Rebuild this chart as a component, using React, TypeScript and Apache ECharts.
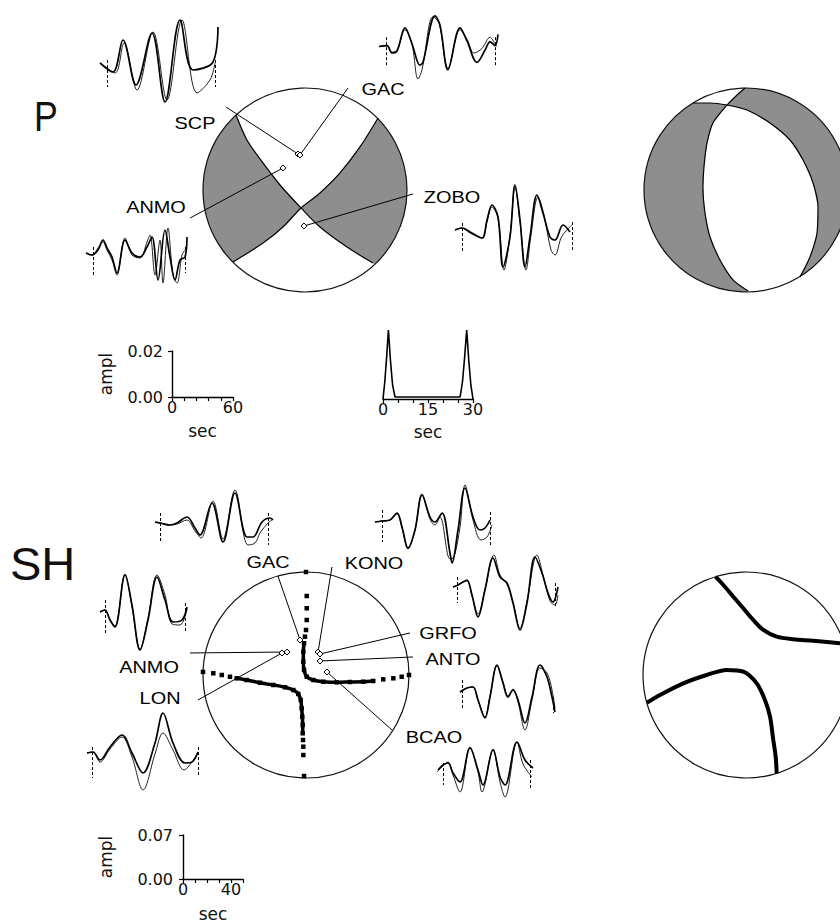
import React, { useEffect, useRef } from "react";
import * as echarts from "echarts";

// ---------------- Waveforms: [time offset, amplitude] (observed / synthetic) ----------------
const pScpObs = [[-7,0],[6,-9],[16,23],[29,-22],[45,30],[58,-39],[73,43],[86,-7],[106,1],[111,36]];
const pScpSyn = [[-7,0],[8,-10],[17,20],[30,-27],[46,31],[60,-37],[75,43],[90,-30],[103,-17],[108,0]];
const pGacObs = [[-7,0],[1,1],[6,-7],[11,-5],[19,20],[26,3],[34,-20],[37,-17],[49,33],[54,23],[62,-25],[74,20],[81,6],[91,-17],[99,-4],[104,5],[109,1],[112,13]];
const pGacSyn = [[-7,0],[1,1],[6,-6],[11,-4],[19,18],[26,2],[32,-35],[36,-25],[47,32],[53,25],[62,-23],[74,18],[81,8],[88,-7],[96,-2],[104,10],[109,3],[111,0]];
const pAnmoObs = [[-7,4],[-1,2],[5,7],[10,17],[14,9],[19,0],[24,-16],[32,17],[39,4],[47,0],[54,10],[59,20],[65,-23],[72,27],[77,0],[82,-23],[87,-3],[92,0],[94,20]];
const pAnmoSyn = [[-7,4],[-1,2],[5,9],[10,15],[14,7],[19,-3],[24,-18],[32,19],[39,2],[47,-1],[54,15],[57,22],[62,-18],[67,17],[70,-26],[75,29],[80,-18],[84,-26],[89,2],[92,7]];
const pZoboObs = [[-7,0],[0,2],[8,-2],[20,-8],[25,10],[30,25],[36,13],[41,-37],[48,-7],[53,45],[58,10],[63,-37],[68,-7],[75,35],[81,17],[88,-7],[93,-10],[101,5],[108,-2]];
const pZoboSyn = [[-7,0],[0,2],[8,-3],[20,-8],[25,8],[30,23],[36,12],[42,-40],[48,-5],[53,43],[58,8],[64,-40],[69,-5],[76,33],[82,15],[89,-20],[93,-25],[99,-8],[103,-2],[110,5]];

const shGacObs = [[-5,1],[0,0],[10,-2],[17,0],[27,6],[35,-5],[40,-12],[52,20],[63,-19],[75,30],[87,-14],[93,-14],[102,1],[110,5],[113,3]];
const shGacSyn = [[-5,1],[0,0],[10,-2],[17,-1],[27,3],[35,-8],[41,-15],[53,22],[63,-16],[75,33],[88,-22],[95,-20],[100,-10],[108,0],[112,3]];
const shKonoObs = [[-7,0],[0,1],[8,2],[15,9],[20,-5],[26,-26],[33,-8],[40,27],[48,5],[53,0],[60,9],[68,-31],[70,-41],[76,-8],[83,34],[91,5],[98,-8],[103,-6],[108,2]];
const shKonoSyn = [[-7,0],[0,1],[8,2],[15,8],[20,-6],[26,-27],[33,-8],[40,28],[48,3],[53,-3],[58,5],[68,-37],[72,-35],[78,-5],[83,37],[91,2],[99,-18],[105,-15],[110,-3]];
const shGrfoObs = [[-4,0],[1,2],[6,5],[10,7],[15,-8],[21,-30],[28,-3],[36,29],[43,10],[50,4],[56,-16],[63,-43],[70,-16],[78,30],[85,14],[91,-6],[96,-15],[101,0]];
const shGrfoSyn = [[-4,0],[1,2],[6,5],[10,6],[15,-9],[21,-27],[28,-2],[37,32],[43,12],[50,3],[56,-15],[63,-41],[70,-14],[80,32],[86,12],[93,-14],[98,-18],[101,-8]];
const shAntoObs = [[-2,-2],[5,2],[11,3],[16,-10],[23,-28],[28,-7],[35,25],[41,7],[46,-7],[51,0],[56,-10],[63,-33],[70,-7],[78,25],[85,13],[90,-7],[93,-22]];
const shAntoSyn = [[-2,-2],[5,2],[11,3],[16,-10],[23,-27],[28,-6],[35,24],[41,8],[46,-6],[51,1],[56,-12],[63,-40],[70,-10],[78,22],[85,17],[90,0],[93,-18]];
const shBcaoObs = [[-5,-3],[0,2],[5,4],[10,-6],[17,-15],[27,19],[35,-3],[40,-18],[50,17],[57,-10],[62,-18],[74,25],[82,7],[90,-1]];
const shBcaoSyn = [[-6,-5],[0,1],[5,5],[10,-8],[17,-25],[27,20],[35,-5],[39,-25],[50,18],[57,-15],[62,-30],[74,25],[80,3],[89,-10]];
const shAnmoObs = [[-5,0],[0,2],[5,-8],[10,-15],[20,37],[27,7],[35,-38],[43,-8],[52,35],[60,12],[68,-10],[77,-8],[82,5]];
const shAnmoSyn = [[-5,0],[0,2],[5,-8],[10,-14],[20,38],[27,5],[35,-37],[43,-6],[52,37],[60,17],[67,-12],[75,-13],[82,3]];
const shLonObs = [[-5,-1],[1,0],[8,-8],[18,5],[30,17],[40,-1],[51,-21],[63,9],[71,39],[81,9],[93,-11],[100,-10],[106,0]];
const shLonSyn = [[-5,-1],[1,0],[8,-10],[18,3],[30,15],[40,-5],[51,-38],[63,-2],[71,19],[81,2],[92,-18],[100,-10],[106,0]];

// Source time function (sec, relative amplitude)
const stfData = [[0,0],[0.6,0.25],[1.2,0.6],[1.8,1],[2.5,0.55],[3.2,0.2],[4,0.03],[25.7,0.03],[26.5,0.25],[27.2,0.6],[27.9,1],[28.6,0.55],[29.3,0.2],[30,0]];

// Scale-bar tick labels
const pAmplTicks = ["0.00", "0.02"];
const shAmplTicks = ["0.00", "0.07"];

// ---------------- Focal mechanisms (unit-circle projection) ----------------
const pPlaneA = [[-0.676,0.735],[-0.569,0.49],[-0.412,0.265],[-0.245,0.049],[-0.039,-0.176],[0.147,-0.363],[0.412,-0.559],[0.667,-0.716]];
const pPlaneB = [[0.716,0.706],[0.539,0.422],[0.343,0.167],[0.147,-0.029],[-0.039,-0.176],[-0.216,-0.363],[-0.412,-0.52],[-0.706,-0.706]];
const p2PlaneC = [[-0.52,0.853],[-0.353,0.853],[-0.186,0.833],[0.01,0.784],[0.235,0.657],[0.431,0.49],[0.559,0.294],[0.657,0.069],[0.706,-0.167],[0.696,-0.422],[0.627,-0.657],[0.529,-0.853]];
const p2PlaneD = [[-0.01,1],[-0.098,0.922],[-0.186,0.833],[-0.324,0.657],[-0.382,0.461],[-0.412,0.225],[-0.422,0.029],[-0.402,-0.225],[-0.353,-0.461],[-0.255,-0.686],[-0.127,-0.882],[0.02,-0.99]];
const shCurve1 = [[-1,0.03],[-0.9,0.017],[-0.818,0],[-0.738,-0.017],[-0.673,-0.032],[-0.576,-0.049],[-0.447,-0.075],[-0.317,-0.097],[-0.204,-0.119],[-0.123,-0.146],[-0.075,-0.184],[-0.051,-0.243],[-0.042,-0.323],[-0.036,-0.405],[-0.032,-0.485],[-0.032,-0.566],[-0.029,-0.631],[-0.026,-0.696],[-0.026,-0.777],[-0.019,-0.981]];
const shCurve2 = [[0,1],[0.007,0.767],[0.007,0.648],[0.007,0.534],[0,0.437],[-0.01,0.372],[-0.019,0.308],[-0.026,0.226],[-0.026,0.129],[-0.019,0.049],[0.007,-0.017],[0.071,-0.049],[0.168,-0.065],[0.298,-0.071],[0.427,-0.068],[0.556,-0.065],[0.653,-0.058],[0.75,-0.042],[0.848,-0.032],[0.929,-0.017],[1,0]];
const sh2CurveA = [[-0.296,0.955],[-0.22,0.874],[-0.123,0.76],[-0.026,0.648],[0.071,0.534],[0.168,0.437],[0.298,0.372],[0.459,0.347],[0.653,0.333],[0.913,0.308],[0.951,0.301]];
const sh2CurveB = [[-0.963,-0.27],[-0.835,-0.194],[-0.609,-0.081],[-0.382,0],[-0.187,0.049],[-0.026,0.032],[0.104,-0.081],[0.184,-0.243],[0.233,-0.405],[0.265,-0.631],[0.288,-0.793],[0.298,-0.955]];

// Stations: name, projected point, leader-line end, label position
const pStations = [
  { name: "SCP", pt: [-0.069,0.353], end: [-0.775,0.814], lab: [-1.078,0.657] },
  { name: "GAC", pt: [-0.049,0.343], end: [0.422,1.0], lab: [0.765,0.99] },
  { name: "ANMO", pt: [-0.216,0.216], end: [-1.127,-0.275], lab: [-1.461,-0.167] },
  { name: "ZOBO", pt: [-0.01,-0.353], end: [1.059,-0.039], lab: [1.441,-0.069] },
];
const shStations = [
  { name: "GAC", pt: [-0.058,0.34], end: [-0.272,0.961], lab: [-0.369,1.097] },
  { name: "KONO", pt: [0.117,0.223], end: [0.252,1.049], lab: [0.66,1.087] },
  { name: "GRFO", pt: [0.136,0.204], end: [1.01,0.408], lab: [1.379,0.408] },
  { name: "ANTO", pt: [0.136,0.136], end: [1.039,0.175], lab: [1.427,0.155] },
  { name: "ANMO", pt: [-0.184,0.223], end: [-1.126,0.214], lab: [-1.524,0.078] },
  { name: "LON", pt: [-0.233,0.214], end: [-1.049,-0.243], lab: [-1.417,-0.223] },
  { name: "BCAO", pt: [0.204,0.029], end: [0.835,-0.534], lab: [1.243,-0.602] },
];

// ---------------- Layout ----------------
const W = 840;
const FONT = "'Liberation Sans', Arial, Helvetica, sans-serif";
const AXFONT = "'DejaVu Sans', Verdana, sans-serif";
const TXT = "#111";
const SHADE = "#8e8e8e";

const waveLayout = [
  { obs: pScpObs, syn: pScpSyn, ox: 107, oy: 63, t0: [3, -24], t1: 108, e1: [3, -24] },
  { obs: pGacObs, syn: pGacSyn, ox: 386, oy: 43, t0: [10, -22], t1: 109, e1: [10, -22] },
  { obs: pAnmoObs, syn: pAnmoSyn, ox: 93, oy: 257, t0: [10, -20], t1: 92, e1: [10, -16] },
  { obs: pZoboObs, syn: pZoboSyn, ox: 462, oy: 230, t0: [7, -22], t1: 110, e1: [8, -22] },
  { obs: shGacObs, syn: shGacSyn, ox: 160, oy: 523, t0: [10, -20], t1: 108, e1: [10, -22] },
  { obs: shKonoObs, syn: shKonoSyn, ox: 382, oy: 522, t0: [12, -20], t1: 108, e1: [10, -23] },
  { obs: shGrfoObs, syn: shGrfoSyn, ox: 457, oy: 587, t0: [10, -16], t1: 98, e1: [4, -21] },
  { obs: shAntoObs, syn: shAntoSyn, ox: 462, oy: 690, t0: [10, -20], t1: 91, e1: [-7, -23] },
  { obs: shBcaoObs, syn: shBcaoSyn, ox: 443, oy: 767, t0: [4, -18], t1: 87, e1: [7, -23] },
  { obs: shAnmoObs, syn: shAnmoSyn, ox: 105, oy: 612, t0: [12, -23], t1: 80, e1: [9, -21] },
  { obs: shLonObs, syn: shLonSyn, ox: 92, oy: 752, t0: [5, -26], t1: 106, e1: [5, -25] },
];

const ang = (p: number[]) => (Math.atan2(p[1], p[0]) * 180) / Math.PI;
const n360 = (a: number) => (a + 360) % 360;
function circleArc(a0: number, a1: number) {
  const pts: number[][] = [];
  const n = Math.max(2, Math.ceil(Math.abs(a1 - a0) / 2));
  for (let i = 0; i <= n; i++) {
    const a = ((a0 + ((a1 - a0) * i) / n) * Math.PI) / 180;
    pts.push([Math.cos(a), Math.sin(a)]);
  }
  return pts;
}

function buildOption() {
  const grid: any[] = [];
  const xAxis: any[] = [];
  const yAxis: any[] = [];
  const series: any[] = [];
  const addGrid = (g: any, x: any, y: any) => {
    const i = grid.length;
    grid.push(g);
    xAxis.push({ ...x, gridIndex: i });
    yAxis.push({ ...y, gridIndex: i });
    return i;
  };
  const hiddenAxis = (min: number, max: number) => ({ type: "value", min, max, show: false });

  // waveforms
  waveLayout.forEach((w) => {
    const i = addGrid(
      { left: w.ox - 15, top: w.oy - 50, width: 140, height: 100 },
      hiddenAxis(-15, 125),
      hiddenAxis(-50, 50)
    );
    series.push({
      type: "line", xAxisIndex: i, yAxisIndex: i, data: w.syn, smooth: 0.35, symbol: "none",
      lineStyle: { color: "#222", width: 1 }, clip: false, silent: true,
    });
    series.push({
      type: "line", xAxisIndex: i, yAxisIndex: i, data: w.obs, smooth: 0.35, symbol: "none",
      lineStyle: { color: "#000", width: 1.7 }, clip: false, silent: true,
    });
    series.push({
      type: "lines", coordinateSystem: "cartesian2d", xAxisIndex: i, yAxisIndex: i, clip: false, silent: true,
      data: [
        { coords: [[0, w.t0[0]], [0, w.t0[1]]] },
        { coords: [[w.t1, w.e1[0]], [w.t1, w.e1[1]]] },
      ],
      lineStyle: { color: "#000", width: 1, type: [3, 2], opacity: 1 },
    });
  });

  const axisCommon = {
    axisLine: { show: true, lineStyle: { color: "#000", width: 1.4 } },
    axisTick: { show: true, length: 4, lineStyle: { color: "#000", width: 1.2 } },
    splitLine: { show: false },
    nameTextStyle: { color: TXT, fontSize: 17, fontFamily: AXFONT },
  };
  const labelStyle = { color: TXT, fontSize: 16, fontFamily: AXFONT };

  // P amplitude scale
  let i = addGrid(
    { left: 172, top: 351, width: 61, height: 46 },
    {
      type: "value", min: 0, max: 60, interval: 12, ...axisCommon,
      axisLabel: { ...labelStyle, margin: 2, formatter: (v: number) => (v === 0 || v === 60 ? String(v) : "") },
      name: "sec", nameLocation: "middle", nameGap: 25,
    },
    {
      type: "value", min: 0, max: 0.02, interval: 0.02, ...axisCommon,
      axisLabel: { ...labelStyle, margin: 9, formatter: (v: number) => (v === 0 ? pAmplTicks[0] : pAmplTicks[1]) },
      name: "ampl", nameLocation: "middle", nameRotate: 90, nameGap: 58,
    }
  );

  // Source time function
  i = addGrid(
    { left: 383, top: 330, width: 90, height: 69 },
    {
      type: "value", min: 0, max: 30, interval: 5, ...axisCommon,
      axisLabel: { ...labelStyle, margin: 2, formatter: (v: number) => (v % 15 === 0 ? String(v) : "") },
      name: "sec", nameLocation: "middle", nameGap: 24,
    },
    hiddenAxis(0, 1)
  );
  series.push({
    type: "line", xAxisIndex: i, yAxisIndex: i, data: stfData, symbol: "none",
    lineStyle: { color: "#000", width: 1.6 }, clip: false, silent: true,
  });

  // SH amplitude scale
  addGrid(
    { left: 183, top: 835, width: 60, height: 44 },
    {
      type: "value", min: 0, max: 50, interval: 10, ...axisCommon,
      axisLabel: { ...labelStyle, margin: 2, formatter: (v: number) => (v === 0 || v === 40 ? String(v) : "") },
      name: "sec", nameLocation: "middle", nameGap: 26,
    },
    {
      type: "value", min: 0, max: 0.07, interval: 0.07, ...axisCommon,
      axisLabel: { ...labelStyle, margin: 10, formatter: (v: number) => (v === 0 ? shAmplTicks[0] : shAmplTicks[1]) },
      name: "ampl", nameLocation: "middle", nameRotate: 90, nameGap: 69,
    }
  );

  // beach-ball helpers (grid kept inside the page; x-range trimmed so units stay square)
  const addBall = (cx: number, cy: number, r: number, regions: number[][][]) => {
    const left = cx - r;
    const width = Math.min(2 * r, W - left);
    const k = addGrid(
      { left, top: cy - r, width, height: 2 * r },
      hiddenAxis(-1, -1 + width / r),
      hiddenAxis(-1, 1)
    );
    series.push({
      type: "custom", xAxisIndex: k, yAxisIndex: k, coordinateSystem: "cartesian2d", data: [[0, 0]],
      clip: false, silent: true,
      renderItem: (_p: any, api: any) => {
        const children: any[] = regions.map((poly) => ({
          type: "polygon",
          shape: { points: poly.map((pt) => api.coord(pt)) },
          style: { fill: SHADE },
        }));
        const c = api.coord([0, 0]);
        const e = api.coord([0, 1]);
        children.push({
          type: "circle",
          shape: { cx: c[0], cy: c[1], r: c[1] - e[1] },
          style: { fill: "none", stroke: "#111", lineWidth: 1.2 },
        });
        return { type: "group", children };
      },
    });
    return k;
  };
  const curve = (k: number, data: number[][], width: number) =>
    series.push({
      type: "line", xAxisIndex: k, yAxisIndex: k, data, smooth: 0.3, symbol: "none",
      lineStyle: { color: "#000", width }, clip: false, silent: true,
    });
  const stations = (k: number, list: any[]) => {
    series.push({
      type: "lines", coordinateSystem: "cartesian2d", xAxisIndex: k, yAxisIndex: k, clip: false, silent: true,
      data: list.map((s) => ({ coords: [s.end, s.pt] })),
      lineStyle: { color: "#000", width: 1, opacity: 1 },
    });
    series.push({
      type: "scatter", xAxisIndex: k, yAxisIndex: k, clip: false, silent: true,
      data: list.map((s) => s.pt), symbol: "diamond", symbolSize: 6,
      itemStyle: { color: "#fff", borderColor: "#000", borderWidth: 1, opacity: 1 },
    });
    series.push({
      type: "custom", xAxisIndex: k, yAxisIndex: k, coordinateSystem: "cartesian2d", clip: false, silent: true,
      data: list.map((s) => s.lab),
      renderItem: (params: any, api: any) => {
        const p = api.coord([api.value(0), api.value(1)]);
        return {
          type: "text", x: p[0], y: p[1], scaleX: 1.17,
          style: {
            text: list[params.dataIndex].name, align: "center", verticalAlign: "middle",
            fontSize: 17, fontFamily: FONT, fill: "#000",
          },
        };
      },
    });
  };

  // P mechanism (left)
  const A = pPlaneA, B = pPlaneB;
  const p1Regions = [
    [...A.slice(0, 5), ...B.slice(5), ...circleArc(n360(ang(B[B.length - 1])), n360(ang(A[0])))],
    [...B.slice(0, 5), ...A.slice(5), ...circleArc(ang(A[A.length - 1]), ang(B[0]))],
  ];
  let k = addBall(305, 190, 102, p1Regions);
  curve(k, A, 1.2);
  curve(k, B, 1.2);
  stations(k, pStations);

  // P mechanism (right)
  const C = p2PlaneC, D = p2PlaneD;
  const p2Regions = [
    [...C.slice(0, 3), ...D.slice(3), ...circleArc(n360(ang(D[D.length - 1])), n360(ang(C[0])))],
    [...D.slice(0, 3), ...C.slice(3), ...circleArc(ang(C[C.length - 1]), ang(D[0]))],
  ];
  k = addBall(746, 190, 102, p2Regions);
  curve(k, C, 1.2);
  curve(k, D, 1.2);

  // SH mechanism (left)
  k = addBall(306, 675, 103, []);
  curve(k, shCurve1.slice(4, 16), 3.5);
  curve(k, shCurve2.slice(6, 17), 3.5);
  series.push({
    type: "scatter", xAxisIndex: k, yAxisIndex: k, clip: false, silent: true,
    data: [...shCurve1, ...shCurve2], symbol: "rect", symbolSize: 4.5,
    itemStyle: { color: "#000", opacity: 1 },
  });
  stations(k, shStations);

  // SH mechanism (right)
  k = addBall(746, 675, 103, []);
  curve(k, sh2CurveA, 4);
  curve(k, sh2CurveB, 4);

  return {
    animation: false,
    backgroundColor: "#fff",
    grid,
    xAxis,
    yAxis,
    series,
    graphic: [
      { type: "text", x: 34, y: 116, scaleX: 0.85, style: { text: "P", fontSize: 42, fontFamily: FONT, fill: "#111", verticalAlign: "middle" } },
      { type: "text", x: 10, y: 563, style: { text: "SH", fontSize: 47, fontFamily: FONT, fill: "#111", verticalAlign: "middle" } },
    ],
  };
}

export default function App() {
  const ref = useRef<HTMLDivElement>(null);
  useEffect(() => {
    if (!ref.current) return;
    const chart = echarts.init(ref.current, null, { renderer: "svg" });
    chart.setOption(buildOption() as any);
    return () => chart.dispose();
  }, []);
  return <div ref={ref} style={{ position: "absolute", left: 0, top: 0, width: W, height: 923 }} />;
}
